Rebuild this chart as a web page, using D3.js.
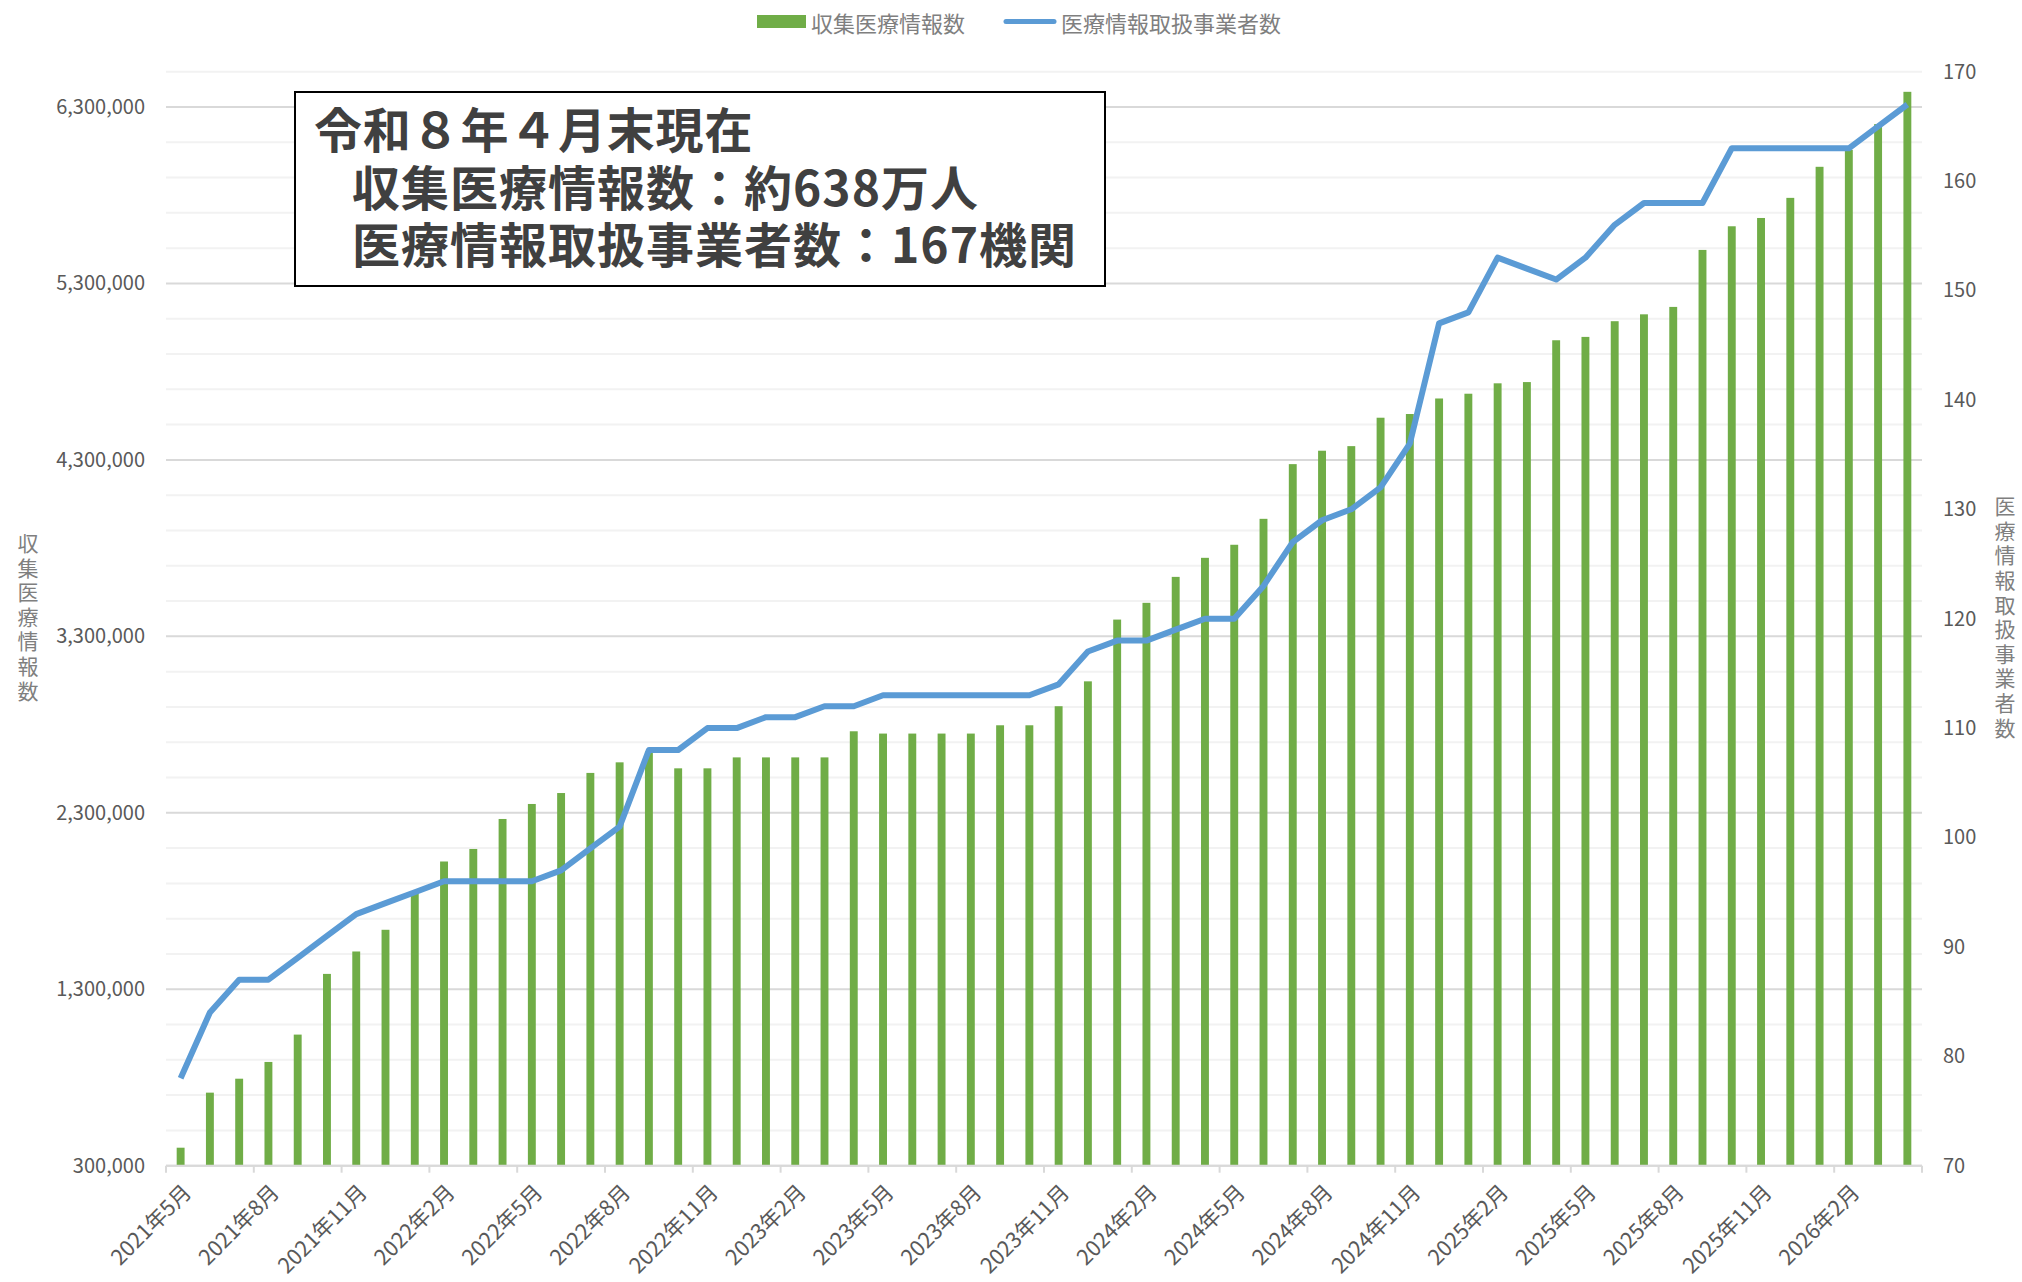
<!DOCTYPE html>
<html>
<head>
<meta charset="utf-8">
<script src="https://cdn.jsdelivr.net/npm/d3@7"></script>
<style>
  body { margin: 0; background: #fff; }
  text { font-family: "Noto Sans CJK JP", "Noto Sans", sans-serif; }
</style>
</head>
<body>
<svg id="chart" width="2022" height="1282"></svg>
<script>
// ***** data *****
const months = [
  "2021年5月", "2021年6月", "2021年7月", "2021年8月", "2021年9月", "2021年10月",
  "2021年11月", "2021年12月", "2022年1月", "2022年2月", "2022年3月", "2022年4月",
  "2022年5月", "2022年6月", "2022年7月", "2022年8月", "2022年9月", "2022年10月",
  "2022年11月", "2022年12月", "2023年1月", "2023年2月", "2023年3月", "2023年4月",
  "2023年5月", "2023年6月", "2023年7月", "2023年8月", "2023年9月", "2023年10月",
  "2023年11月", "2023年12月", "2024年1月", "2024年2月", "2024年3月", "2024年4月",
  "2024年5月", "2024年6月", "2024年7月", "2024年8月", "2024年9月", "2024年10月",
  "2024年11月", "2024年12月", "2025年1月", "2025年2月", "2025年3月", "2025年4月",
  "2025年5月", "2025年6月", "2025年7月", "2025年8月", "2025年9月", "2025年10月",
  "2025年11月", "2025年12月", "2026年1月", "2026年2月", "2026年3月", "2026年4月"
];

// 収集医療情報数 (bars, left axis)
const infoCounts = [
  402000, 714000, 793000, 888000, 1043000, 1387000,
  1514000, 1637000, 1847000, 2024000, 2095000, 2265000,
  2350000, 2412000, 2526000, 2586000, 2647000, 2552000,
  2552000, 2614000, 2614000, 2614000, 2614000, 2762000,
  2749000, 2749000, 2749000, 2749000, 2796000, 2796000,
  2904000, 3045000, 3395000, 3490000, 3637000, 3745000,
  3819000, 3966000, 4276000, 4352000, 4378000, 4539000,
  4560000, 4648000, 4675000, 4734000, 4741000, 4978000,
  4997000, 5086000, 5125000, 5167000, 5490000, 5624000,
  5671000, 5785000, 5961000, 6057000, 6203000, 6386000
];

// 医療情報取扱事業者数 (line, right axis)
const operators = [
  78, 84, 87, 87, 89, 91,
  93, 94, 95, 96, 96, 96,
  96, 97, 99, 101, 108, 108,
  110, 110, 111, 111, 112, 112,
  113, 113, 113, 113, 113, 113,
  114, 117, 118, 118, 119, 120,
  120, 123, 127, 129, 130, 132,
  136, 147, 148, 153, 152, 151,
  153, 156, 158, 158, 158, 163,
  163, 163, 163, 163, 165, 167
];

const leftTicks = [300000, 1300000, 2300000, 3300000, 4300000, 5300000, 6300000];
const rightTicks = [70, 80, 90, 100, 110, 120, 130, 140, 150, 160, 170];
const legendNames = ["収集医療情報数", "医療情報取扱事業者数"];
const noteLines = ["令和８年４月末現在", "収集医療情報数：約638万人", "医療情報取扱事業者数：167機関"];

// ***** layout *****
const plotLeft = 166, plotRight = 1922, plotTop = 71.7, plotBottom = 1165.7;
const barColor = "#70AD47", lineColor = "#5B9BD5";

const svg = d3.select("#chart");

const x = d3.scaleBand()
  .domain(months)
  .range([plotLeft, plotRight])
  .paddingInner(0.73)
  .paddingOuter(0.365);

const yLeft = d3.scaleLinear().domain([300000, 6500000]).range([plotBottom, plotTop]);
const yRight = d3.scaleLinear().domain([70, 170]).range([plotBottom, plotTop]);

// ***** gridlines *****
const gridValues = d3.range(300000, 6500001, 200000);
svg.append("g")
  .selectAll("line")
  .data(gridValues)
  .enter()
  .append("line")
  .attr("x1", plotLeft)
  .attr("x2", plotRight)
  .attr("y1", d => yLeft(d))
  .attr("y2", d => yLeft(d))
  .attr("stroke", d => ((d - 300000) % 1000000 === 0 ? "#d9d9d9" : "#f2f2f2"))
  .attr("stroke-width", 2);

// ***** bars *****
svg.append("g")
  .selectAll("rect")
  .data(infoCounts)
  .enter()
  .append("rect")
  .attr("x", (d, i) => x(months[i]))
  .attr("width", x.bandwidth())
  .attr("y", d => yLeft(d))
  .attr("height", d => plotBottom - yLeft(d))
  .attr("fill", barColor);

// ***** line *****
const line = d3.line()
  .x((d, i) => x(months[i]) + x.bandwidth() / 2)
  .y(d => yRight(d));

svg.append("path")
  .datum(operators)
  .attr("d", line)
  .attr("fill", "none")
  .attr("stroke", lineColor)
  .attr("stroke-width", 6)
  .attr("stroke-linejoin", "round");

// ***** x axis *****
const step = x.step();
const tickPos = d3.range(0, months.length + 1, 3).map(i => plotLeft + i * step);

svg.append("line")
  .attr("x1", plotLeft).attr("x2", plotRight)
  .attr("y1", plotBottom).attr("y2", plotBottom)
  .attr("stroke", "#d9d9d9").attr("stroke-width", 2);

svg.append("g")
  .selectAll("line")
  .data(tickPos)
  .enter()
  .append("line")
  .attr("x1", d => d).attr("x2", d => d)
  .attr("y1", plotBottom).attr("y2", plotBottom + 7)
  .attr("stroke", "#d9d9d9").attr("stroke-width", 2);

svg.append("g")
  .selectAll("text")
  .data(months.filter((m, i) => i % 3 === 0))
  .enter()
  .append("text")
  .attr("transform", d => "translate(" + (x(d) + x.bandwidth() / 2 + 8) + "," + (plotBottom + 24) + ") rotate(-45)")
  .attr("text-anchor", "end")
  .attr("dominant-baseline", "middle")
  .attr("font-size", 21.5)
  .attr("fill", "#595959")
  .text(d => d);

// ***** y axes *****
const leftAxis = svg.append("g")
  .attr("transform", "translate(" + plotLeft + ",0)")
  .call(d3.axisLeft(yLeft).tickValues(leftTicks).tickFormat(d3.format(",")).tickSize(0).tickPadding(21));
leftAxis.select(".domain").remove();
leftAxis.selectAll("text").attr("font-size", 20).attr("fill", "#595959")
  .style("font-family", "'Noto Sans CJK JP', sans-serif");

const rightAxis = svg.append("g")
  .attr("transform", "translate(" + plotRight + ",0)")
  .call(d3.axisRight(yRight).tickValues(rightTicks).tickSize(0).tickPadding(21));
rightAxis.select(".domain").remove();
rightAxis.selectAll("text").attr("font-size", 20).attr("fill", "#595959")
  .style("font-family", "'Noto Sans CJK JP', sans-serif");

// ***** axis titles (vertical writing) *****
function verticalTitle(label, cx, cy) {
  svg.append("text")
    .attr("x", cx)
    .attr("y", cy)
    .attr("text-anchor", "middle")
    .style("writing-mode", "vertical-rl")
    .style("text-orientation", "upright")
    .attr("letter-spacing", 3.6)
    .attr("font-size", 21)
    .attr("fill", "#7f7f7f")
    .text(label);
}
verticalTitle(legendNames[0], 28, (plotTop + plotBottom) / 2);
verticalTitle(legendNames[1], 2005, (plotTop + plotBottom) / 2);

// ***** legend *****
const legend = svg.append("g");
legend.append("rect")
  .attr("x", 757).attr("y", 15).attr("width", 49).attr("height", 13)
  .attr("fill", barColor);
legend.append("text")
  .attr("x", 811).attr("y", 21.5)
  .attr("dominant-baseline", "central")
  .attr("font-size", 22).attr("fill", "#7f7f7f")
  .text(legendNames[0]);
legend.append("line")
  .attr("x1", 1006).attr("x2", 1054).attr("y1", 21.5).attr("y2", 21.5)
  .attr("stroke", lineColor).attr("stroke-width", 5).attr("stroke-linecap", "round");
legend.append("text")
  .attr("x", 1061).attr("y", 21.5)
  .attr("dominant-baseline", "central")
  .attr("font-size", 22).attr("fill", "#7f7f7f")
  .text(legendNames[1]);

// ***** annotation box *****
const note = svg.append("g");
note.append("rect")
  .attr("x", 295).attr("y", 92).attr("width", 810).attr("height", 194)
  .attr("fill", "#fff").attr("stroke", "#000").attr("stroke-width", 2);
note.append("text")
  .attr("y", 148)
  .attr("font-size", 48)
  .attr("font-weight", "bold")
  .attr("fill", "#404040")
  .selectAll("tspan")
  .data(noteLines)
  .enter()
  .append("tspan")
  .attr("x", (d, i) => (i === 0 ? 314 : 352))
  .attr("dy", (d, i) => (i === 0 ? 0 : 57.5))
  .attr("letter-spacing", (d, i) => (i === 0 ? 0.8 : 1))
  .text(d => d);
</script>
</body>
</html>
